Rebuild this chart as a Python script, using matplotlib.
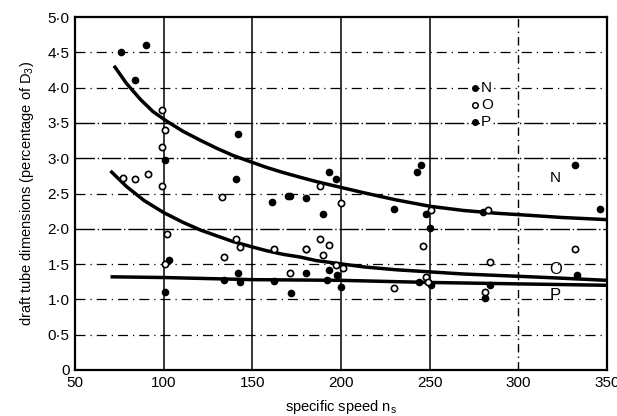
import matplotlib
matplotlib.use("Agg")
import matplotlib.pyplot as plt

# measured points (specific speed, % of D3)
n_x = [76, 90, 84, 101, 142, 141, 161, 170, 193, 197, 171, 180, 190, 230, 243, 245, 248, 250, 280, 332, 346]
n_y = [4.51, 4.61, 4.11, 2.98, 3.34, 2.71, 2.38, 2.47, 2.80, 2.70, 2.47, 2.43, 2.21, 2.28, 2.80, 2.90, 2.21, 2.01, 2.24, 2.91, 2.28]

o_x = [99, 101, 99, 77, 84, 91, 99, 133, 102, 101, 134, 141, 143, 162, 171, 180, 188, 200, 188, 193, 180, 190,
       197, 201, 230, 251, 246, 248, 249, 283, 284, 281, 332]
o_y = [3.68, 3.40, 3.16, 2.72, 2.71, 2.78, 2.61, 2.45, 1.92, 1.50, 1.60, 1.86, 1.74, 1.71, 1.38, 1.72, 2.60, 2.37,
       1.85, 1.77, 1.72, 1.63, 1.49, 1.44, 1.16, 2.27, 1.76, 1.32, 1.25, 2.27, 1.53, 1.11, 1.72]

p_x = [103, 101, 142, 134, 143, 162, 172, 180, 193, 198, 200, 192, 244, 251, 284, 281, 333]
p_y = [1.56, 1.10, 1.38, 1.27, 1.25, 1.26, 1.09, 1.37, 1.41, 1.35, 1.17, 1.27, 1.25, 1.20, 1.20, 1.02, 1.35]

# fitted curves
curve_n_x = [72, 79, 87, 94, 102, 111, 121, 130, 139, 149, 158, 167, 177, 186, 196,
             213, 231, 250, 269, 288, 307, 325, 350]
curve_n_y = [4.31, 4.06, 3.83, 3.66, 3.52, 3.38, 3.25, 3.14, 3.04, 2.95, 2.87, 2.80, 2.73, 2.67, 2.61,
             2.51, 2.41, 2.32, 2.26, 2.22, 2.19, 2.16, 2.13]

curve_o_x = [70, 79, 89, 100, 111, 121, 130, 139, 149, 158, 167, 177, 186, 198,
             213, 231, 250, 269, 288, 307, 325, 350]
curve_o_y = [2.82, 2.60, 2.40, 2.23, 2.09, 1.98, 1.90, 1.82, 1.75, 1.69, 1.64, 1.60, 1.55, 1.51,
             1.46, 1.42, 1.39, 1.36, 1.34, 1.32, 1.30, 1.27]

curve_p_x = [70, 100, 150, 200, 250, 300, 350]
curve_p_y = [1.32, 1.31, 1.28, 1.27, 1.24, 1.22, 1.20]

x_ticks = [50, 100, 150, 200, 250, 300, 350]
y_ticks = [0, 0.5, 1.0, 1.5, 2.0, 2.5, 3.0, 3.5, 4.0, 4.5, 5.0]
y_labels = ["0", "0·5", "1·0", "1·5", "2·0", "2·5", "3·0", "3·5", "4·0", "4·5", "5·0"]

plt.rcParams['font.family'] = ['Liberation Sans', 'DejaVu Sans']

fig = plt.figure(figsize=(6.17, 4.16), dpi=100)
ax = fig.add_axes([0.1216, 0.1106, 0.8622, 0.8484])

# grid: solid-ish and dash-dot lines like the scan
for xv in [100, 150, 200, 250]:
    ax.axvline(xv, color="black", lw=1.1, zorder=1)
ax.axvline(300, color="black", lw=1.0, ls=(0, (6, 3, 1, 3)), zorder=1)
for yv in [2.0, 3.0, 3.5]:
    ax.axhline(yv, color="black", lw=1.0, ls=(0, (14, 2, 1, 2)), zorder=1)
for yv in [0.5, 1.0, 1.5, 2.5, 4.0, 4.5]:
    ax.axhline(yv, color="black", lw=0.9, ls=(0, (8, 4, 1, 4)), zorder=1)

for cx, cy in [(curve_n_x, curve_n_y), (curve_o_x, curve_o_y), (curve_p_x, curve_p_y)]:
    ax.plot(cx, cy, color="black", lw=2.5, solid_capstyle="butt", solid_joinstyle="round", zorder=2)

ax.plot(n_x, n_y, "o", ms=4.5, color="black", zorder=3)
ax.plot(p_x, p_y, "o", ms=4.5, color="black", zorder=3)
ax.plot(o_x, o_y, "o", ms=4.5, mfc="white", mec="black", mew=1.2, zorder=3)

# legend drawn as in the original
ax.plot([275.5], [4.0], "o", ms=4, color="black", zorder=4)
ax.plot([275.5], [3.75], "o", ms=4, mfc="white", mec="black", mew=1.1, zorder=4)
ax.plot([275.5], [3.51], "o", ms=4, color="black", zorder=4)
for yv, lab in [(4.0, "N"), (3.75, "O"), (3.51, "P")]:
    ax.text(279, yv, lab, fontsize=11, va="center", ha="left",
            bbox=dict(facecolor="white", edgecolor="none", pad=0.5), zorder=4)

ax.text(321, 2.72, "N", fontsize=11, ha="center", va="center")
ax.text(321, 1.42, "O", fontsize=12, ha="center", va="center")
ax.text(321, 1.06, "P", fontsize=12, ha="center", va="center")

ax.set_xlim(50, 350)
ax.set_ylim(0, 5.0)
ax.set_xticks(x_ticks)
ax.set_yticks(y_ticks)
ax.set_yticklabels(y_labels)
ax.tick_params(length=0, labelsize=11, pad=4)
for s in ax.spines.values():
    s.set_linewidth(1.6)

ax.set_xlabel("specific speed n$_\\mathregular{s}$", fontsize=10.5, labelpad=6)
ax.set_ylabel("draft tube dimensions (percentage of D$_\\mathregular{3}$)", fontsize=10.5, labelpad=8)

fig.savefig("out.png", dpi=100)
